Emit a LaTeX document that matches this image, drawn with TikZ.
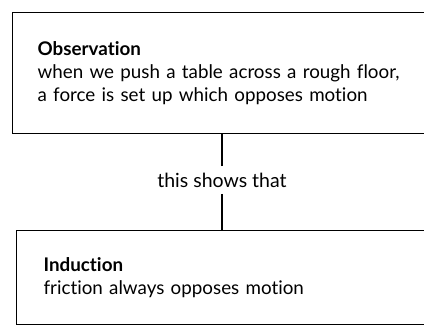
\documentclass[tikz,border=0pt]{standalone}
\usepackage{fontspec}
\setmainfont{Lato}[Ligatures={NoCommon,NoContextual}]
\usetikzlibrary{positioning}

\begin{document}
\begin{tikzpicture}[x=1pt, y=1pt, line width=1.2pt]
    \tikzset{
      box/.style={draw, anchor=north west, align=left, text width=400pt,
        minimum height=#1, inner ysep=0pt, font=\fontsize{18.8}{23}\selectfont},
      note/.style={font=\fontsize{19.5}{20}\selectfont, inner xsep=2pt, inner ysep=6pt}
    }
    \useasboundingbox (0,0) rectangle (424,-326);
    \clip (0,0) rectangle (424,-326);

    \node at (12,-12) [box=121pt, inner xsep=25pt](obs){\textbf{Observation}\\
      when we push a table across a rough floor,\\
      a force is set up which opposes motion};
    \node [box=94pt, inner xsep=27pt, below=96pt of obs.south west, anchor=north west, xshift=4pt](ind){\textbf{Induction}\\
      friction always opposes motion};
    \node at (222,-180) [note](lbl){this shows that};

    %% Connector
    \draw (lbl) -- (lbl |- obs.south);
    \draw (lbl) -- (lbl |- ind.north);
\end{tikzpicture}
\end{document}
